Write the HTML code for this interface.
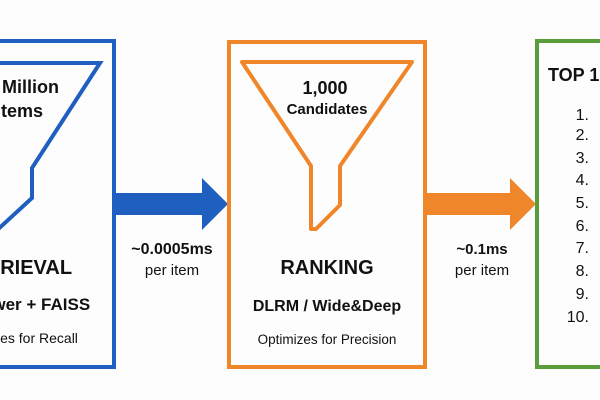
<!DOCTYPE html>
<html><head><meta charset="utf-8"><style>
html,body{margin:0;padding:0;background:#fff;}
svg{display:block;}
text{font-family:"Liberation Sans",Arial,sans-serif;fill:#111;}
</style></head><body>
<svg width="600" height="400" viewBox="0 0 600 400" xmlns="http://www.w3.org/2000/svg">
<rect width="600" height="400" fill="#fdfdfd"/>
<!-- Blue box -->
<rect x="-10" y="41" width="124" height="326" fill="none" stroke="#1f5fbf" stroke-width="4"/>
<polyline points="-10,63 100,63 32,168 32,198 -5,232" fill="none" stroke="#1f5fbf" stroke-width="4" stroke-linejoin="miter"/>
<text x="2" y="93" font-size="18" font-weight="bold">Million</text>
<text x="-4" y="117" font-size="18" font-weight="bold">Items</text>
<text x="-12" y="274" font-size="20" font-weight="bold">TRIEVAL</text>
<text x="-18" y="310" font-size="17" font-weight="bold">ower + FAISS</text>
<text x="-10" y="343" font-size="14">izes for Recall</text>
<!-- Blue arrow -->
<polygon points="114,193 202,193 202,178 228,204 202,230 202,215 114,215" fill="#1f5fbf"/>
<text x="172" y="254" font-size="16" font-weight="bold" text-anchor="middle">~0.0005ms</text>
<text x="172" y="275" font-size="15" text-anchor="middle">per item</text>
<!-- Orange box -->
<rect x="229" y="42" width="196" height="325" fill="none" stroke="#f0862a" stroke-width="4"/>
<polygon points="242,62 412,62 340,166 340,205 316,229 311,229 311,166" fill="none" stroke="#f0862a" stroke-width="4" stroke-linejoin="round"/>
<text x="325" y="94" font-size="18" font-weight="bold" text-anchor="middle">1,000</text>
<text x="327" y="114" font-size="15" font-weight="bold" text-anchor="middle">Candidates</text>
<text x="327" y="274" font-size="20" font-weight="bold" text-anchor="middle">RANKING</text>
<text x="327" y="311" font-size="16" font-weight="bold" text-anchor="middle">DLRM / Wide&amp;Deep</text>
<text x="327" y="344" font-size="13.5" text-anchor="middle">Optimizes for Precision</text>
<!-- Orange arrow -->
<polygon points="425,193 510,193 510,178 536,204 510,230 510,215 425,215" fill="#f0862a"/>
<text x="482" y="254" font-size="15" font-weight="bold" text-anchor="middle">~0.1ms</text>
<text x="482" y="275" font-size="15" text-anchor="middle">per item</text>
<!-- Green box -->
<rect x="537" y="41" width="80" height="326" fill="none" stroke="#5a9e3a" stroke-width="4"/>
<text x="548" y="81" font-size="18" font-weight="bold">TOP 10</text>
<g font-size="16" text-anchor="end">
<text x="589" y="120">1.</text>
<text x="589" y="140">2.</text>
<text x="589" y="163">3.</text>
<text x="589" y="185">4.</text>
<text x="589" y="208">5.</text>
<text x="589" y="231">6.</text>
<text x="589" y="253">7.</text>
<text x="589" y="276">8.</text>
<text x="589" y="299">9.</text>
<text x="589" y="322">10.</text>
</g>
</svg>
</body></html>
